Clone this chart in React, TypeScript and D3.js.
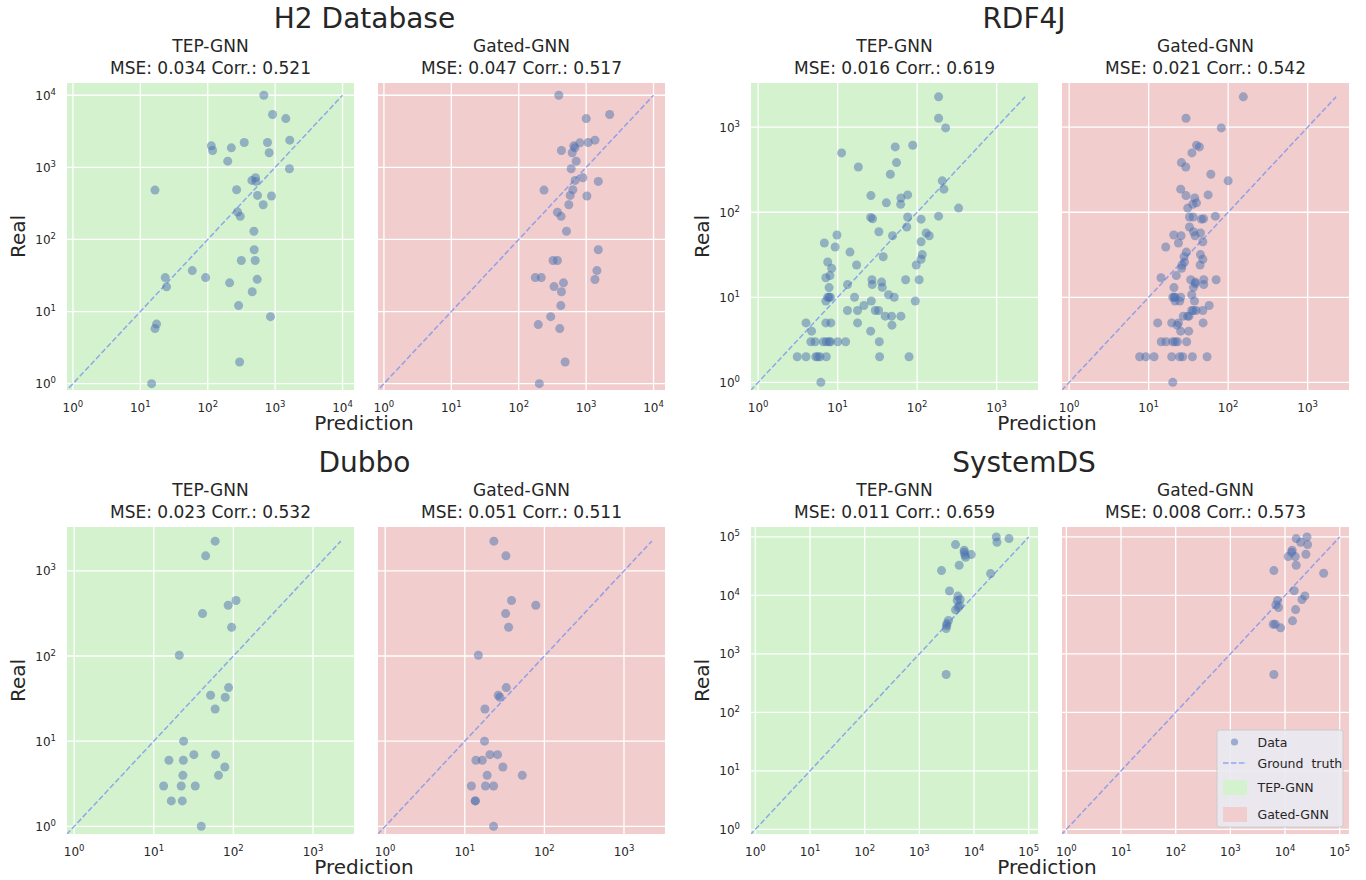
import React from 'react';
import * as d3 from 'd3';

// ---------- data ----------
const projects = ['H2 Database', 'RDF4J', 'Dubbo', 'SystemDS'];
const models = ['TEP-GNN', 'Gated-GNN'];
const mseValues = [[0.034, 0.047], [0.016, 0.021], [0.023, 0.051], [0.011, 0.008]];
const corrValues = [[0.521, 0.517], [0.619, 0.542], [0.532, 0.511], [0.659, 0.573]];
const tickMaxExp = [4, 3, 3, 5];
const axisLimitsExp: [number, number][] = [[-0.088, 4.17], [-0.09, 3.52], [-0.09, 3.515], [-0.08, 5.17]];
const legendLabels = ['Data', 'Ground  truth', 'TEP-GNN', 'Gated-GNN'];

type P = [number, number]; // [prediction, real]

const h2Tep: P[] = [
  [680, 10000], [915, 5400], [1440, 4750], [113, 1990], [118, 1715], [224, 1866], [348, 2212], [770, 2212],
  [1648, 2382], [815, 1592], [198, 1220], [1630, 955], [16.5, 484], [452, 659], [512, 718], [518, 638],
  [268, 489], [548, 408], [883, 400], [665, 303], [277, 240], [304, 209], [484, 130], [489, 72], [315, 51],
  [506, 51], [59, 37], [93, 29.6], [23.4, 29.6], [24.5, 22], [211, 25], [542, 28], [457, 18.8], [287, 12.1],
  [853, 8.5], [17.4, 6.7], [16.5, 5.8], [297, 2], [14.7, 1],
];
const h2Gated: P[] = [
  [393, 10000], [2234, 5400], [1003, 4750], [1352, 2382], [1074, 2212], [807, 2188], [657, 1990], [680, 1866],
  [430, 1715], [621, 1592], [712, 1220], [600, 955], [895, 718], [687, 659], [1514, 638], [237, 484], [635, 489],
  [580, 408], [1026, 400], [553, 303], [375, 238], [425, 209], [511, 130], [1514, 72], [323, 51], [375, 51],
  [1445, 37], [176, 29.6], [216, 29.6], [1352, 27.8], [461, 25], [334, 22.2], [430, 18.8], [421, 12.1],
  [298, 8.5], [195, 6.6], [406, 5.8], [488, 2], [202, 1],
];
const rdfTep: P[] = [
  [186, 2275], [186, 1276], [228, 982], [11.2, 499], [53, 587], [88, 614], [55, 384], [18.2, 341], [46, 280],
  [207, 234], [217, 187], [26.2, 157], [76, 160], [62.5, 147], [41, 129], [62, 124], [332, 112], [26, 87],
  [27.5, 84], [76, 88], [186, 90], [112, 83], [74, 67], [33, 59], [49, 53], [130, 57], [142, 53], [9.8, 54],
  [6.8, 43.5], [9.3, 39], [14.3, 34], [112, 45], [116, 31.8], [112, 28], [37.4, 30], [7.5, 26], [17.3, 24],
  [97.5, 24], [8.4, 21.9], [8.0, 18], [7.1, 17], [27, 16.1], [71.6, 16.1], [106, 16.1], [35.7, 15.1],
  [13.3, 14.1], [27.2, 14.1], [36.4, 13.1], [7.8, 13], [43.7, 10.7], [51.5, 10], [16.3, 10], [7.8, 10],
  [7.5, 10], [8.1, 10], [7.1, 9.06], [26.5, 9.06], [94.7, 9.06], [21.4, 8], [17.8, 7], [13.3, 7], [29.7, 7],
  [32.7, 7], [39.7, 6], [47.7, 6], [62.5, 6], [48.2, 4.7], [17.8, 5], [26, 4], [4.0, 5], [4.7, 4], [7.1, 5],
  [8.2, 5], [4.6, 3], [5.2, 3], [6.6, 3], [7.2, 3], [7.8, 3], [8.1, 3], [10, 3], [12.6, 3], [33.4, 3],
  [3.1, 2], [4.0, 2], [5.3, 2], [5.6, 2], [6.0, 2], [7.2, 2], [33.7, 2], [79, 2], [6.15, 1],
];
const rdfGated: P[] = [
  [155, 2275], [29.5, 1276], [82, 982], [40, 614], [43.5, 587], [35, 499], [25.8, 384], [29.3, 341], [60.6, 280],
  [100, 234], [25.3, 187], [29.5, 157], [56, 160], [38, 147], [35.9, 124], [40, 129], [31, 112], [32.6, 88],
  [36.3, 88], [46, 83], [49, 84], [69, 90], [32.6, 67], [36.6, 59], [44.8, 57], [20.7, 54], [25.6, 53],
  [38.4, 53], [23.7, 43.5], [48, 45], [16.4, 39], [29.8, 34], [44.8, 31.8], [27.9, 30], [48, 28], [28.2, 26],
  [26.3, 24], [44.4, 24], [26, 21.9], [22.3, 18], [14.3, 17], [33.8, 16.1], [49.3, 16.1], [70.6, 16.1],
  [38.7, 15.1], [38.7, 14.5], [49.3, 14.1], [36.6, 13.1], [20.8, 13], [34.8, 10.7], [20.1, 10], [21, 10],
  [21.5, 10], [25.3, 10], [21.5, 9.06], [24.6, 9.06], [37.7, 9.06], [57.7, 8], [34.8, 7], [36.6, 7], [39.5, 7],
  [48, 7], [27.3, 6], [31, 6], [32.2, 6], [13, 5], [19.5, 5], [48.4, 5], [23.7, 5], [22.8, 4.7], [25.3, 4],
  [31.9, 4], [14.4, 3], [16.5, 3], [20.1, 3], [21.5, 3], [23, 3], [30.1, 3], [7.7, 2], [9.2, 2], [11.7, 2],
  [19.5, 2], [24.6, 2], [26.8, 2], [35.5, 2], [54.3, 2], [20.1, 1],
];
const dubboTep: P[] = [
  [59, 2234], [44.8, 1502], [108, 449], [86, 395], [41, 315], [95, 218], [20.9, 102], [87, 42.6], [51.7, 34.6],
  [79, 32.8], [59, 23.9], [23.7, 10], [31.9, 6.95], [59.8, 6.95], [15.5, 5.97], [23.5, 5.97], [78, 4.98],
  [23.2, 3.97], [65, 3.97], [13.3, 2.98], [22.1, 2.98], [33.2, 2.98], [16.6, 1.99], [22.8, 1.99], [39.5, 1],
];
const dubboGated: P[] = [
  [23.2, 2234], [32.9, 1502], [38.7, 449], [78, 395], [32.6, 315], [35.5, 218], [14.8, 102], [33.2, 42.6],
  [26.3, 34.6], [27.6, 32.8], [17.9, 23.9], [17.7, 10], [20.7, 6.95], [25.8, 6.95], [13.8, 5.97], [16.6, 5.97],
  [30.1, 4.98], [19.1, 3.97], [52.7, 3.97], [12.1, 2.98], [18.2, 2.98], [23, 2.98], [13.5, 1.99], [13.6, 1.99],
  [23, 1],
];
const sysTep: P[] = [
  [25500, 100000], [26250, 81000], [43600, 93700], [4580, 74000], [6610, 59200], [6610, 54700], [6800, 49200],
  [8890, 49900], [7000, 45000], [5350, 32800], [2540, 26600], [20100, 23600], [3560, 11900], [5060, 9750],
  [4920, 8170], [5580, 8500], [5430, 6710], [5130, 6210], [4580, 5660], [3410, 3720], [3180, 3300],
  [3180, 3050], [3090, 2720], [3090, 445],
];
const sysGated: P[] = [
  [25200, 100000], [16000, 93700], [19300, 81000], [25900, 74000], [13500, 59200], [13200, 54700],
  [11400, 46100], [15400, 46100], [24100, 50600], [16000, 32800], [6250, 26600], [50900, 23900],
  [14700, 12000], [23100, 9820], [20400, 8500], [7300, 8170], [6800, 6890], [7610, 6210], [15600, 5720],
  [13700, 3670], [6080, 3220], [6610, 3220], [8280, 2790], [6250, 445],
];
const panelData: P[][][] = [[h2Tep, h2Gated], [rdfTep, rdfGated], [dubboTep, dubboGated], [sysTep, sysGated]];
const lineStart = 0.5;

// ---------- style / layout ----------
const FONT = 'DejaVu Sans';
const TEXT = '#262626';
const BG = ['#d5f2cf', '#f2cdcd'];
const DOT = '#4c72b0';
const LINE = '#7090f0';
const colX = [67, 378, 751, 1062];
const rowY = [83, 527];
const PW = 287;
const PH = 307;
const groupTitleX = [364.5, 1024];
const predLabelX = [364, 1047];

function sup(e: number) {
  return (
    <>
      <tspan>10</tspan>
      <tspan dy={-5} fontSize={8.5}>{e}</tspan>
    </>
  );
}

function Panel({ pi, mi }: { pi: number; mi: number }) {
  const row = Math.floor(pi / 2);
  const g = pi % 2;
  const x0 = colX[g * 2 + mi];
  const y0 = rowY[row];
  const [lo, hi] = axisLimitsExp[pi];
  const xs = d3.scaleLog().domain([10 ** lo, 10 ** hi]).range([x0, x0 + PW]);
  const ys = d3.scaleLog().domain([10 ** lo, 10 ** hi]).range([y0 + PH, y0]);
  const exps = d3.range(0, tickMaxExp[pi] + 1);
  const data = panelData[pi][mi];
  const lineMax = d3.max(panelData[pi].flat(), (d) => d[1]) as number;
  const clipId = `clip-${pi}-${mi}`;
  const lineGen = d3.line<number>().x((v) => xs(v)).y((v) => ys(v));
  return (
    <g>
      <defs>
        <clipPath id={clipId}>
          <rect x={x0} y={y0} width={PW} height={PH} />
        </clipPath>
      </defs>
      <rect x={x0} y={y0} width={PW} height={PH} fill={BG[mi]} />
      {exps.map((e) => (
        <line key={'gx' + e} x1={xs(10 ** e)} x2={xs(10 ** e)} y1={y0} y2={y0 + PH} stroke="#fff" strokeWidth={1.3} />
      ))}
      {exps.map((e) => (
        <line key={'gy' + e} x1={x0} x2={x0 + PW} y1={ys(10 ** e)} y2={ys(10 ** e)} stroke="#fff" strokeWidth={1.3} />
      ))}
      <g clipPath={`url(#${clipId})`}>
        <path d={lineGen([lineStart, lineMax]) || ''} stroke={LINE} strokeOpacity={0.75} strokeWidth={1.5}
          strokeDasharray="5.55,2.4" fill="none" />
        {data.map((d, i) => (
          <circle key={i} cx={xs(d[0])} cy={ys(d[1])} r={4.5} fill={DOT} fillOpacity={0.5} />
        ))}
      </g>
      {exps.map((e) => (
        <text key={'tx' + e} x={xs(10 ** e)} y={y0 + PH + 21.5} textAnchor="middle" fontSize={12} fill={TEXT}>
          {sup(e)}
        </text>
      ))}
      {mi === 0 &&
        exps.map((e) => (
          <text key={'ty' + e} x={x0 - 11} y={ys(10 ** e) + 4.5} textAnchor="end" fontSize={12} fill={TEXT}>
            {sup(e)}
          </text>
        ))}
      <text x={x0 + PW / 2} y={y0 - 31} textAnchor="middle" fontSize={17} fill={TEXT}>{models[mi]}</text>
      <text x={x0 + PW / 2} y={y0 - 9} textAnchor="middle" fontSize={17} fill={TEXT}>
        {`MSE: ${mseValues[pi][mi].toFixed(3)} Corr.: ${corrValues[pi][mi].toFixed(3)}`}
      </text>
    </g>
  );
}

function Legend() {
  const x = colX[3] + PW - 132;
  const y = rowY[1] + PH - 104;
  return (
    <g fontSize={12.5} fill={TEXT}>
      <rect x={x} y={y} width={126} height={97} rx={2.5} fill="#eaeaf2" fillOpacity={0.9} stroke="#cccccc" />
      <circle cx={x + 17.5} cy={y + 12} r={3.6} fill={DOT} fillOpacity={0.5} />
      <text x={x + 40.5} y={y + 16.5}>{legendLabels[0]}</text>
      <line x1={x + 6} x2={x + 30} y1={y + 33} y2={y + 33} stroke={LINE} strokeOpacity={0.75} strokeWidth={1.5}
        strokeDasharray="5.55,2.4" />
      <text x={x + 40.5} y={y + 37.5} style={{ whiteSpace: 'pre' }}>{legendLabels[1]}</text>
      <rect x={x + 6} y={y + 50} width={24} height={15} fill={BG[0]} />
      <text x={x + 40.5} y={y + 62}>{legendLabels[2]}</text>
      <rect x={x + 6} y={y + 77} width={24} height={15} fill={BG[1]} />
      <text x={x + 40.5} y={y + 89}>{legendLabels[3]}</text>
    </g>
  );
}

export default function App() {
  return (
    <svg width={1366} height={880} style={{ position: 'absolute', left: 0, top: 0, background: '#fff' }}
      fontFamily={FONT}>
      {projects.map((name, pi) => {
        const row = Math.floor(pi / 2);
        const g = pi % 2;
        const y0 = rowY[row];
        return (
          <g key={name}>
            <text x={groupTitleX[g]} y={y0 - 55} textAnchor="middle" fontSize={28} fill={TEXT}>{name}</text>
            <Panel pi={pi} mi={0} />
            <Panel pi={pi} mi={1} />
            <text transform={`translate(${colX[g * 2] - 42},${y0 + PH / 2}) rotate(-90)`} textAnchor="middle"
              fontSize={20} fill={TEXT}>Real</text>
            <text x={predLabelX[g]} y={y0 + PH + 40} textAnchor="middle" fontSize={20} fill={TEXT}>Prediction</text>
          </g>
        );
      })}
      <Legend />
    </svg>
  );
}
